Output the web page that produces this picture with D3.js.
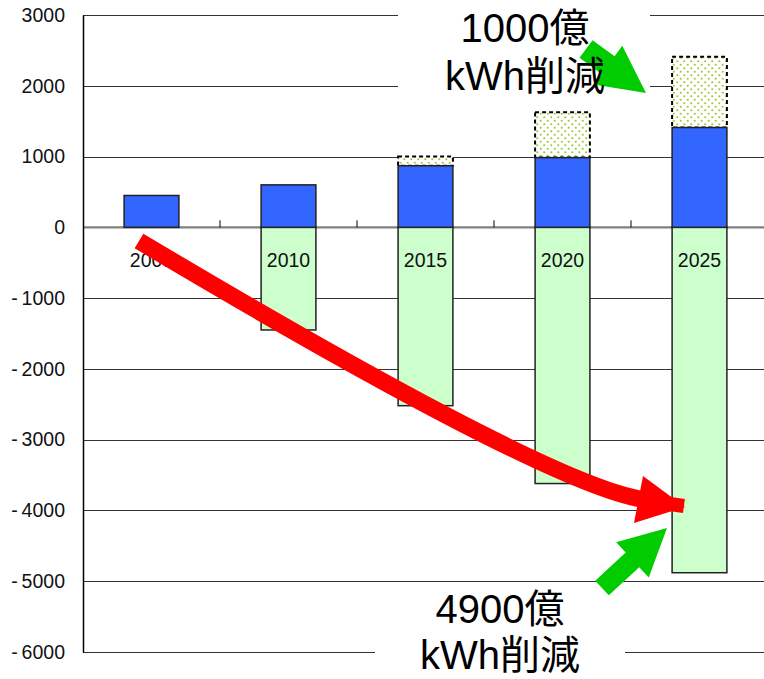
<!DOCTYPE html>
<html>
<head>
<meta charset="utf-8">
<script src="https://cdn.jsdelivr.net/npm/d3@7"></script>
<style>
  html, body { margin: 0; padding: 0; background: #fff; }
  svg { display: block; }
  text { font-family: "Liberation Sans", Arial, "Noto Sans CJK JP", sans-serif; }
</style>
</head>
<body>
<svg id="chart" width="764" height="679"></svg>
<script>
// ---- data ----
const categories = ["2008", "2010", "2015", "2020", "2025"];
const supplyValues = [450, 600, 870, 985, 1410];          // blue bars (positive)
const extraReduction = [0, 0, 130, 640, 1000];            // dotted boxes stacked on blue
const demandReduction = [0, -1450, -2520, -3620, -4880];  // light green bars (negative)
const yTickValues = [3000, 2000, 1000, 0, -1000, -2000, -3000, -4000, -5000, -6000];
const topNote = ["1000億", "kWh削減"];
const bottomNote = ["4900億", "kWh削減"];

const svg = d3.select("#chart");
const left = 83, plotTop = 15, plotBottom = 652, step = 137;
const right = left + step * categories.length;

const x = d3.scaleBand().domain(categories).range([left, right])
  .paddingInner(0.6).paddingOuter(0.3);
const y = d3.scaleLinear().domain([-6000, 3000]).range([plotBottom, plotTop]);

// pattern for dotted boxes
const defs = svg.append("defs");
const pat = defs.append("pattern").attr("id", "dots")
  .attr("patternUnits", "userSpaceOnUse").attr("width", 7).attr("height", 7);
pat.append("rect").attr("width", 7).attr("height", 7).attr("fill", "#fff");
pat.append("circle").attr("cx", 1.75).attr("cy", 1.75).attr("r", 1.1).attr("fill", "#9acd32");
pat.append("circle").attr("cx", 5.25).attr("cy", 5.25).attr("r", 1.1).attr("fill", "#9acd32");

// gridlines
svg.append("g").selectAll("line").data(yTickValues.filter(d => d !== 0)).join("line")
  .attr("x1", left).attr("x2", right)
  .attr("y1", d => Math.round(y(d)) + 0.5).attr("y2", d => Math.round(y(d)) + 0.5)
  .attr("stroke", "#333").attr("stroke-width", 1);

// white boxes behind the annotation texts
svg.append("rect").attr("x", 398).attr("y", 0).attr("width", 252).attr("height", 100).attr("fill", "#fff");
svg.append("rect").attr("x", 375).attr("y", 586).attr("width", 250).attr("height", 93).attr("fill", "#fff");

// zero line
svg.append("line").attr("x1", left).attr("x2", right)
  .attr("y1", y(0)).attr("y2", y(0)).attr("stroke", "#808080").attr("stroke-width", 2.2);

// category separator ticks
svg.append("g").selectAll("line").data(d3.range(1, categories.length + 1)).join("line")
  .attr("x1", i => left + i * step).attr("x2", i => left + i * step)
  .attr("y1", y(0) - 7).attr("y2", y(0))
  .attr("stroke", "#000").attr("stroke-width", 1);

const rows = categories.map((c, i) => ({
  c, s: supplyValues[i], e: extraReduction[i], d: demandReduction[i]
}));

// green negative bars
svg.append("g").selectAll("rect").data(rows.filter(r => r.d < 0)).join("rect")
  .attr("x", r => x(r.c)).attr("width", x.bandwidth())
  .attr("y", y(0)).attr("height", r => y(r.d) - y(0))
  .attr("fill", "#ccffcc").attr("stroke", "#222").attr("stroke-width", 1.5);

// dotted boxes
svg.append("g").selectAll("rect").data(rows.filter(r => r.e > 0)).join("rect")
  .attr("x", r => x(r.c)).attr("width", x.bandwidth())
  .attr("y", r => y(r.s + r.e)).attr("height", r => y(r.s) - y(r.s + r.e))
  .attr("fill", "url(#dots)").attr("stroke", "#000").attr("stroke-width", 2)
  .attr("stroke-dasharray", "4,3");

// blue bars
svg.append("g").selectAll("rect").data(rows).join("rect")
  .attr("x", r => x(r.c)).attr("width", x.bandwidth())
  .attr("y", r => y(r.s)).attr("height", r => y(0) - y(r.s))
  .attr("fill", "#3366ff").attr("stroke", "#222").attr("stroke-width", 1.5);

// y axis
const yAxis = d3.axisLeft(y).tickValues(yTickValues).tickSize(0).tickPadding(18)
  .tickFormat(d => d < 0 ? "-\u2009" + Math.abs(d) : String(d));
const gy = svg.append("g").attr("transform", `translate(${left},0)`).call(yAxis);
gy.select(".domain").attr("stroke", "#000").attr("stroke-width", 1.5);
gy.selectAll("text").attr("font-size", 19.5).attr("fill", "#111")
  .attr("font-family", '"Liberation Sans", Arial, sans-serif');

// category labels
svg.append("g").selectAll("text").data(categories).join("text")
  .attr("x", c => x(c) + x.bandwidth() / 2).attr("y", y(0) + 40)
  .attr("text-anchor", "middle").attr("font-size", 19.5).attr("fill", "#111")
  .text(c => c);

// red curved arrow
svg.append("path")
  .attr("d", "M139,241 Q555,489 647,500")
  .attr("fill", "none").attr("stroke", "#ff0000").attr("stroke-width", 17);
svg.append("path")
  .attr("d", "M643,476 L634,523 L685,507 Z").attr("fill", "#ff0000");
svg.append("rect").attr("x", 670).attr("y", 498).attr("width", 14).attr("height", 14)
  .attr("fill", "#ff0000").attr("transform", "rotate(8,677,505)");

// green block arrows
function blockArrow(tail, tip, shaftW, headW, headL) {
  const dx = tip[0] - tail[0], dy = tip[1] - tail[1];
  const len = Math.hypot(dx, dy), ux = dx / len, uy = dy / len, px = -uy, py = ux;
  const bx = tip[0] - ux * headL, by = tip[1] - uy * headL;
  const pts = [
    [tail[0] + px * shaftW / 2, tail[1] + py * shaftW / 2],
    [bx + px * shaftW / 2, by + py * shaftW / 2],
    [bx + px * headW / 2, by + py * headW / 2],
    tip,
    [bx - px * headW / 2, by - py * headW / 2],
    [bx - px * shaftW / 2, by - py * shaftW / 2],
    [tail[0] - px * shaftW / 2, tail[1] - py * shaftW / 2]
  ];
  svg.append("path").attr("d", "M" + pts.map(p => p.join(",")).join("L") + "Z")
    .attr("fill", "#00cc00");
}
blockArrow([586, 49], [646, 93], 22, 48, 47);
blockArrow([602, 588], [667, 528], 20, 48, 47);

// annotation texts
function note(lines, cx, y1, y2) {
  const t = svg.append("g");
  t.append("text").attr("x", cx).attr("y", y1).attr("text-anchor", "middle")
    .attr("font-size", 40).attr("fill", "#000").text(lines[0]);
  t.append("text").attr("x", cx).attr("y", y2).attr("text-anchor", "middle")
    .attr("font-size", 40).attr("fill", "#000").text(lines[1]);
}
note(topNote, 525, 42, 90);
note(bottomNote, 500, 623, 669);
</script>
</body>
</html>
